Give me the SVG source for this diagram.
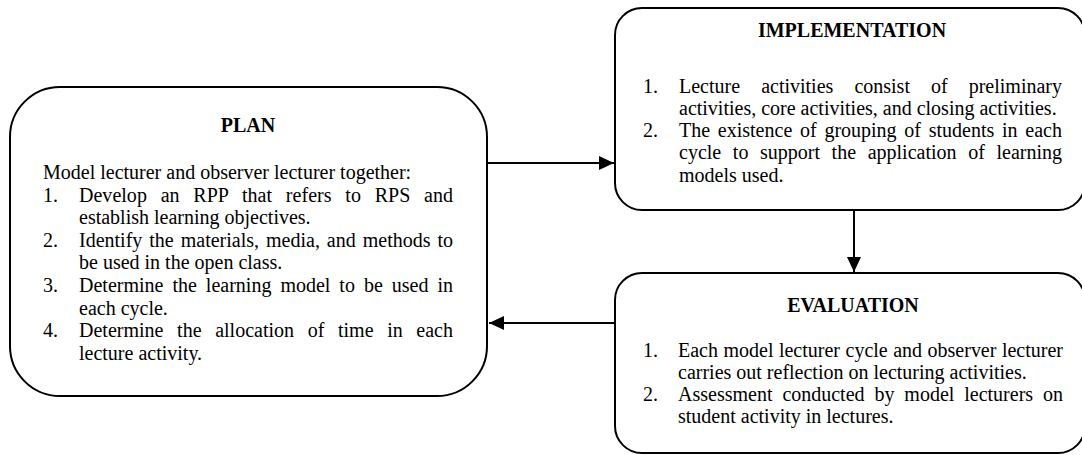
<svg xmlns="http://www.w3.org/2000/svg" width="1082" height="455" viewBox="0 0 1082 455">
<style>
.box{fill:#fff;stroke:#000;stroke-width:2}
.t{font-family:"Liberation Serif","Times New Roman",serif;font-size:20px;fill:#000}
.h{font-weight:bold;text-anchor:middle}
.c{fill:none;stroke:#000;stroke-width:2}
</style>
<defs>
<marker id="ah" markerWidth="16" markerHeight="14" refX="15" refY="7" orient="auto" markerUnits="userSpaceOnUse">
<path d="M0,0 L15,7 L0,14 Z" fill="#000"/>
</marker>
</defs>
<rect width="1082" height="455" fill="#fff"/>
<g id="connectors">
<line class="c" x1="487" y1="163" x2="614" y2="163" marker-end="url(#ah)"/>
<line class="c" x1="854" y1="210" x2="854" y2="272" marker-end="url(#ah)"/>
<line class="c" x1="615" y1="323" x2="489" y2="323" marker-end="url(#ah)"/>
</g>
<g id="plan">
<rect class="box" x="10" y="87" width="477" height="309" rx="50" ry="50"/>
<text class="t h" x="248" y="132">PLAN</text>
<text class="t" x="43" y="179">Model lecturer and observer lecturer together:</text>
<text class="t" x="43" y="201.6">1.</text>
<text class="t" x="79" y="201.6" word-spacing="8.74" textLength="374" lengthAdjust="spacing">Develop an RPP that refers to RPS and</text>
<text class="t" x="79" y="224.2">establish learning objectives.</text>
<text class="t" x="43" y="246.8">2.</text>
<text class="t" x="79" y="246.8" word-spacing="1.97" textLength="374" lengthAdjust="spacing">Identify the materials, media, and methods to</text>
<text class="t" x="79" y="269.4">be used in the open class.</text>
<text class="t" x="43" y="292">3.</text>
<text class="t" x="79" y="292" word-spacing="3.99" textLength="374" lengthAdjust="spacing">Determine the learning model to be used in</text>
<text class="t" x="79" y="314.6">each cycle.</text>
<text class="t" x="43" y="337.2">4.</text>
<text class="t" x="79" y="337.2" word-spacing="8.64" textLength="374" lengthAdjust="spacing">Determine the allocation of time in each</text>
<text class="t" x="79" y="359.8">lecture activity.</text>
</g>
<g id="implementation">
<rect class="box" x="615" y="8" width="470" height="202" rx="27" ry="27"/>
<text class="t h" x="852" y="37">IMPLEMENTATION</text>
<text class="t" x="643" y="92.5">1.</text>
<text class="t" x="679" y="92.5" word-spacing="16.05" textLength="383" lengthAdjust="spacing">Lecture activities consist of preliminary</text>
<text class="t" x="679" y="114.8">activities, core activities, and closing activities.</text>
<text class="t" x="643" y="137.1">2.</text>
<text class="t" x="679" y="137.1" word-spacing="2.74" textLength="383" lengthAdjust="spacing">The existence of grouping of students in each</text>
<text class="t" x="679" y="159.4" word-spacing="6.62" textLength="383" lengthAdjust="spacing">cycle to support the application of learning</text>
<text class="t" x="679" y="181.7">models used.</text>
</g>
<g id="evaluation">
<rect class="box" x="615" y="273" width="470" height="180" rx="27" ry="27"/>
<text class="t h" x="853" y="312">EVALUATION</text>
<text class="t" x="643" y="357">1.</text>
<text class="t" x="678" y="357" word-spacing="0.49" textLength="385" lengthAdjust="spacing">Each model lecturer cycle and observer lecturer</text>
<text class="t" x="678" y="379">carries out reflection on lecturing activities.</text>
<text class="t" x="643" y="401">2.</text>
<text class="t" x="678" y="401" word-spacing="4.9" textLength="385" lengthAdjust="spacing">Assessment conducted by model lecturers on</text>
<text class="t" x="678" y="423">student activity in lectures.</text>
</g>
</svg>
